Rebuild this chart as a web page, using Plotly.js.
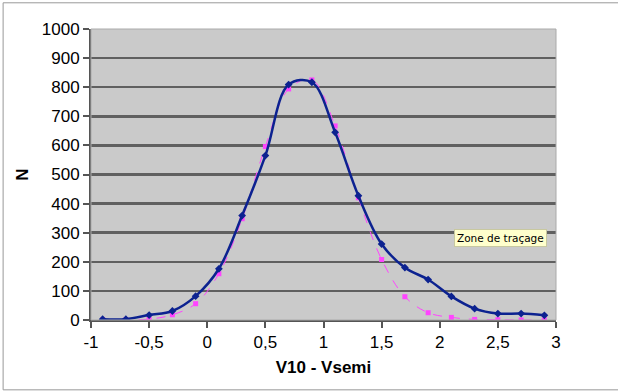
<!DOCTYPE html>
<html><head><meta charset="utf-8">
<script src="https://cdn.plot.ly/plotly-3.0.1.min.js"></script>
<style>body{margin:0;background:#fff}#c{width:618px;height:392px}</style>
</head><body><div id="c"></div>
<script>
var xVals = [-0.9,-0.7,-0.5,-0.3,-0.1,0.1,0.3,0.5,0.7,0.9,1.1,1.3,1.5,1.7,1.9,2.1,2.3,2.5,2.7,2.9];
var nObserved = [3,3,17,31,82,176,359,565,809,817,645,427,261,180,139,81,39,22,22,16];
var nFit = [1,1,3,18,56,159,348,596,794,825,667,420,208,80,25,9,2,1,0,0];
var xTickVals = [-1,-0.5,0,0.5,1,1.5,2,2.5,3];
var xTickText = ["-1","-0,5","0","0,5","1","1,5","2","2,5","3"];
var yTickVals = [0,100,200,300,400,500,600,700,800,900,1000];
var yTickText = ["0","100","200","300","400","500","600","700","800","900","1000"];

var traces = [
 {x:xVals, y:nFit, mode:'lines+markers', type:'scatter',
  line:{color:'#ff44ff', width:1, dash:'dash', shape:'spline', smoothing:1},
  marker:{symbol:'square', size:5, color:'#ff44ff'}},
 {x:xVals, y:nObserved, mode:'lines+markers', type:'scatter',
  line:{color:'#0c2290', width:2.5, shape:'spline', smoothing:1},
  marker:{symbol:'diamond', size:6, color:'#0c2290'}}
];
var layout = {
 width:618, height:392, showlegend:false,
 margin:{l:91, r:62, t:29, b:72},
 paper_bgcolor:'#ffffff', plot_bgcolor:'#cacaca',
 font:{family:'Liberation Sans, Arial, sans-serif', size:17, color:'#000'},
 xaxis:{range:[-1,3], tickvals:xTickVals, ticktext:xTickText, showgrid:false, zeroline:false,
  showline:true, linecolor:'#555', linewidth:2, ticks:'outside', ticklen:6, tickwidth:2, tickcolor:'#555',
  tickfont:{size:17}, title:{text:'<b>V10 - Vsemi</b>', font:{size:17}, standoff:10}},
 yaxis:{range:[0,1000], tickvals:yTickVals, ticktext:yTickText, showgrid:true, gridcolor:'#606060', gridwidth:2.5,
  zeroline:false, showline:true, linecolor:'#555', linewidth:2, ticks:'outside', ticklen:6, tickwidth:2, tickcolor:'#555',
  tickfont:{size:17}, title:{text:'<b>N</b>', font:{size:17}, standoff:9}},
 shapes:[
  {type:'rect', xref:'paper', yref:'paper', x0:0, x1:1, y0:0, y1:1, line:{color:'#aaaaaa', width:1}},
  {type:'line', xref:'paper', yref:'paper', x0:-0.189, x1:1.14, y0:1.09, y1:1.09, line:{color:'#999', width:1}},
  {type:'line', xref:'paper', yref:'paper', x0:-0.189, x1:-0.189, y0:-0.24, y1:1.09, line:{color:'#999', width:1}},
  {type:'line', xref:'paper', yref:'paper', x0:-0.189, x1:1.14, y0:-0.24, y1:-0.24, line:{color:'#999', width:1}}
 ],
 annotations:[
  {xref:'x', yref:'y', x:2.12, y:282, text:'Zone de traçage', showarrow:false, xanchor:'left',
   bgcolor:'#ffffcc', bordercolor:'#c8c8a0', borderwidth:1, borderpad:2,
   font:{family:'DejaVu Sans, sans-serif', size:10.5, color:'#000'}}
 ]
};
Plotly.newPlot('c', traces, layout, {displayModeBar:false, staticPlot:true});
</script></body></html>
